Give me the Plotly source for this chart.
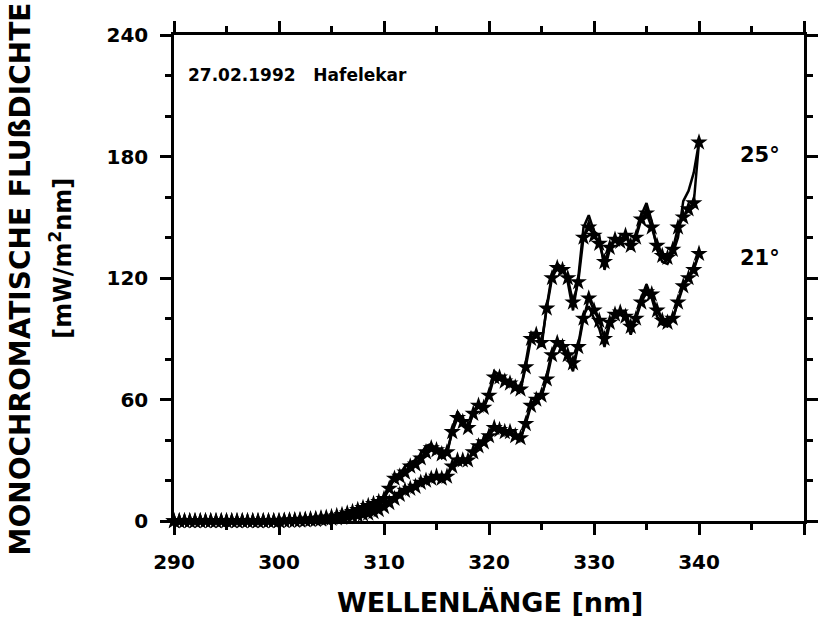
import numpy as np
import plotly.graph_objects as go

# Wavelength grid (nm), 0.5 nm steps
wavelength = np.arange(290.0, 340.01, 0.5)

zeros21 = [0.0] * 21  # 290.0 ... 300.0

# 25 deg solar elevation: star-marked spectrum
sza25_stars = zeros21 + [
    0.2, 0.3, 0.4, 0.5, 0.7, 0.9, 1.1, 1.4, 1.7, 2.0,
    2.5, 3.0, 3.8, 4.5, 5.5, 6.5, 7.5, 8.5, 9.5, 11,
    16, 21, 22, 24, 27, 28, 31, 34, 36, 35,
    33, 34, 44, 51, 49, 46, 53, 57, 56, 62,
    71, 71, 69, 68, 66, 65, 76, 90, 92, 88,
    105, 120, 125, 124, 120, 108, 118, 140, 145, 141,
    137, 128, 135, 139, 138, 141, 136, 140, 149, 152,
    145, 136, 131, 130, 134, 145, 150, 154, 157, 187,
]
# 25 deg: solid-line spectrum
sza25_line = zeros21 + [
    0.2, 0.3, 0.4, 0.6, 0.8, 1.0, 1.2, 1.5, 1.8, 2.2,
    2.7, 3.3, 4.2, 5.0, 6.0, 7.0, 8.0, 9.0, 10.0, 12,
    18, 23, 23, 27, 29, 30, 33, 37, 38, 35,
    31, 33, 45, 54, 50, 45, 54, 58, 56, 63,
    74, 72, 69, 67, 65, 64, 78, 93, 93, 86,
    106, 122, 127, 125, 118, 104, 120, 145, 151, 143,
    141, 124, 134, 139, 137, 142, 134, 141, 151, 157,
    148, 134, 128, 127, 132, 140, 158, 163, 172, 187,
]
# 21 deg: star-marked spectrum
sza21_stars = zeros21 + [
    0.1, 0.2, 0.2, 0.3, 0.4, 0.5, 0.6, 0.8, 1.0, 1.2,
    1.4, 1.7, 2.0, 2.4, 2.8, 3.3, 3.8, 4.5, 5.5, 7,
    9, 11, 13, 15, 16, 17, 19, 20, 21, 22,
    21, 22, 27, 30, 30, 30, 34, 37, 39, 42,
    46, 45, 44, 44, 42, 41, 48, 57, 60, 62,
    70, 82, 88, 86, 82, 78, 86, 100, 110, 104,
    99, 90, 98, 102, 103, 101, 96, 100, 108, 113,
    112, 104, 99, 98, 100, 108, 116, 120, 124, 132,
]
# 21 deg: solid-line spectrum
sza21_line = zeros21 + [
    0.1, 0.2, 0.3, 0.3, 0.4, 0.5, 0.7, 0.9, 1.1, 1.3,
    1.5, 1.8, 2.1, 2.5, 3.0, 3.5, 4.0, 4.8, 5.8, 7.5,
    10, 12, 14, 16, 17, 18, 20, 21, 22, 21,
    20, 22, 28, 31, 30, 29, 35, 38, 40, 44,
    47, 45, 44, 43, 41, 40, 49, 58, 60, 61,
    72, 84, 89, 85, 80, 74, 87, 102, 106, 100,
    95, 86, 97, 101, 103, 100, 92, 100, 110, 117,
    110, 101, 97, 96, 99, 109, 117, 121, 125, 132,
]

x_major = [290, 300, 310, 320, 330, 340, 350]
x_major_text = ["290", "300", "310", "320", "330", "340", ""]
x_minor = [295, 305, 315, 325, 335, 345]
y_major = [0, 60, 120, 180, 240]
y_minor = [20, 40, 80, 100, 140, 160, 200, 220]

FONT = "DejaVu Sans"
BLACK = "#000000"

fig = go.Figure()
for line_vals in (sza25_line, sza21_line):
    fig.add_trace(go.Scatter(
        x=wavelength, y=line_vals, mode="lines",
        line=dict(color=BLACK, width=2.5), cliponaxis=False, showlegend=False,
    ))
for star_vals in (sza25_stars, sza21_stars):
    fig.add_trace(go.Scatter(
        x=wavelength, y=star_vals, mode="lines+markers",
        line=dict(color=BLACK, width=2.5),
        marker=dict(symbol="star", size=13, color=BLACK, line=dict(width=0)),
        cliponaxis=False, showlegend=False,
    ))

axis_common = dict(
    showgrid=False, zeroline=False, showline=True, linecolor=BLACK, linewidth=2.5,
    mirror="allticks", ticks="outside", ticklen=11, tickwidth=2.5, tickcolor=BLACK,
    tickfont=dict(family=FONT, size=20, color=BLACK, weight="bold"),
)
fig.update_xaxes(
    range=[290, 350], tickmode="array", tickvals=x_major, ticktext=x_major_text,
    minor=dict(tickmode="array", tickvals=x_minor, ticks="outside", ticklen=6,
               tickwidth=2.5, tickcolor=BLACK),
    ticklabelstandoff=10,
    **axis_common,
)
fig.update_yaxes(
    range=[0, 240], tickmode="array", tickvals=y_major,
    minor=dict(tickmode="array", tickvals=y_minor, ticks="outside", ticklen=6,
               tickwidth=2.5, tickcolor=BLACK),
    ticklabelstandoff=8,
    **axis_common,
)

ann_font = dict(family=FONT, color=BLACK, weight="bold")
fig.update_layout(
    width=828, height=622,
    margin=dict(l=174, r=10, t=35, b=101),
    paper_bgcolor="white", plot_bgcolor="white",
    annotations=[
        dict(text="MONOCHROMATISCHE FLUßDICHTE", xref="paper", yref="paper",
             x=-0.2422, y=0.498, textangle=-90, showarrow=False,
             xanchor="center", yanchor="middle", font=dict(size=28, **ann_font)),
        dict(text="[mW/m<sup>2</sup>nm]", xref="paper", yref="paper",
             x=-0.18, y=0.541, textangle=-90, showarrow=False,
             xanchor="center", yanchor="middle", font=dict(size=24, **ann_font)),
        dict(text="WELLENLÄNGE [nm]", xref="paper", yref="paper",
             x=0.5016, y=-0.1687, showarrow=False,
             xanchor="center", yanchor="middle", font=dict(size=27, **ann_font)),
        dict(text="27.02.1992\u00a0\u00a0\u00a0Hafelekar", xref="paper", yref="paper",
             x=0.0186, y=0.9177, showarrow=False,
             xanchor="left", yanchor="middle", font=dict(size=17, **ann_font)),
        dict(text="25°", xref="paper", yref="paper", x=0.896, y=0.753,
             showarrow=False, xanchor="left", yanchor="middle",
             font=dict(size=21, **ann_font)),
        dict(text="21°", xref="paper", yref="paper", x=0.896, y=0.541,
             showarrow=False, xanchor="left", yanchor="middle",
             font=dict(size=21, **ann_font)),
    ],
)

fig.write_html("out.html")
